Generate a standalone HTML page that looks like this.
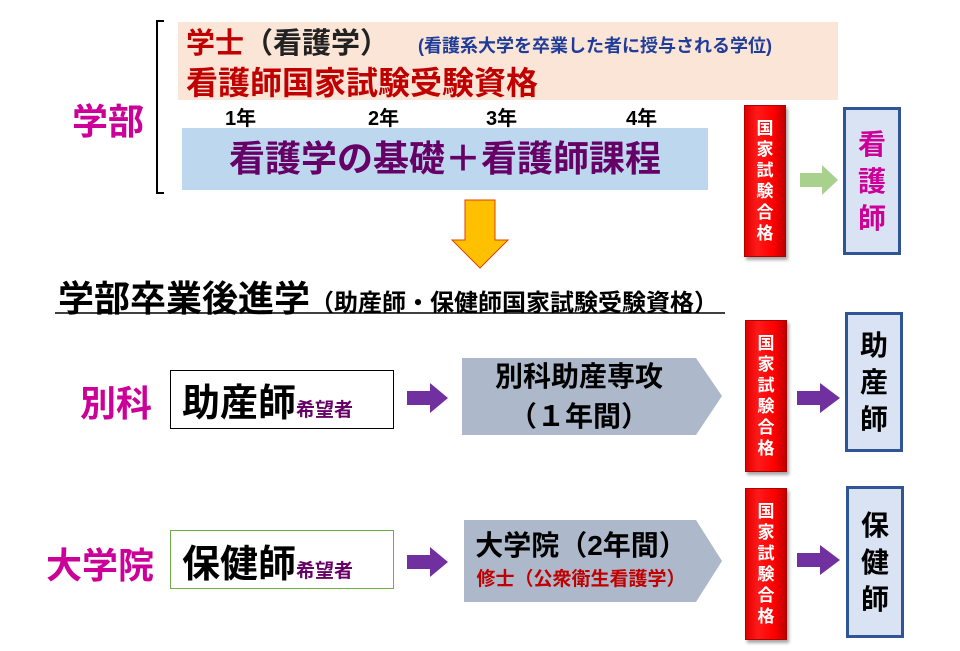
<!DOCTYPE html>
<html><head><meta charset="utf-8"><style>
body{margin:0;width:960px;height:651px;background:#fff;position:relative;overflow:hidden;font-family:"Liberation Sans","Noto Sans CJK JP",sans-serif;font-weight:bold}
.a{position:absolute;white-space:nowrap}
.red{position:absolute;width:40px;background:linear-gradient(90deg,#e00000,#ff1a1a 30%,#ff0000 70%,#c00000);border:1px solid #b00000;box-shadow:2px 3px 3px rgba(0,0,0,.35);color:#fff;font-size:17px;line-height:21px;text-align:center;display:flex;flex-direction:column;justify-content:center}
.res{position:absolute;width:52px;background:#dae3f3;border:3px solid #2f5597;font-size:28px;line-height:37px;text-align:center;display:flex;flex-direction:column;justify-content:center}
.box{position:absolute;left:170px;width:222px;height:57px;background:#fff}
</style></head><body>
<div class="a" style="left:156px;top:20px;width:6px;height:170px;border:2px solid #000;border-right:none"></div>
<div class="a" style="left:178px;top:22px;width:660px;height:78px;background:#fbe5d6"></div>
<div class="a" style="left:186px;top:20px;font-size:29px;color:#c00000">学士<span style="color:#222">（看護学）</span></div>
<div class="a" style="left:418px;top:32px;font-size:18px;color:#1f3c99">(看護系大学を卒業した者に授与される学位)</div>
<div class="a" style="left:186px;top:58px;font-size:32px;color:#c00000">看護師国家試験受験資格</div>
<div class="a" style="left:225px;top:102px;font-size:20px">1年</div>
<div class="a" style="left:368px;top:102px;font-size:20px">2年</div>
<div class="a" style="left:486px;top:102px;font-size:20px">3年</div>
<div class="a" style="left:626px;top:102px;font-size:20px">4年</div>
<div class="a" style="left:182px;top:128px;width:526px;height:62px;background:#bdd7ee;color:#660066;font-size:36px;line-height:62px;text-align:center">看護学の基礎＋看護師課程</div>
<div class="a" style="left:72px;top:93px;font-size:36px;color:#cc0099">学部</div>
<svg class="a" style="left:0;top:0" width="960" height="651">
<polygon points="465,200 495,200 495,240 508,240 480,268 452,240 465,240" fill="#ffc000" stroke="#e04000" stroke-width="1"/>
<polygon points="800,173 822,173 822,165 838,180 822,195 822,187 800,187" fill="#a9d18e"/>
<polygon points="407,391 430,391 430,383 448,398 430,413 430,405 407,405" fill="#7030a0"/>
<polygon points="797,391 820,391 820,383 840,398 820,413 820,405 797,405" fill="#7030a0"/>
<polygon points="407,555 430,555 430,547 448,562 430,577 430,569 407,569" fill="#7030a0"/>
<polygon points="797,553 820,553 820,545 840,560 820,575 820,567 797,567" fill="#7030a0"/>
<polygon points="462,358 696,358 722,396 696,435 462,435" fill="#adb9ca"/>
<polygon points="464,520 696,520 722,561 696,602 464,602" fill="#adb9ca"/>
<line x1="55" y1="313" x2="725" y2="313" stroke="#000" stroke-width="1.5"/>
</svg>
<div class="red" style="left:744px;top:105px;height:150px">国<br>家<br>試<br>験<br>合<br>格</div>
<div class="red" style="left:745px;top:320px;height:150px">国<br>家<br>試<br>験<br>合<br>格</div>
<div class="red" style="left:745px;top:488px;height:150px">国<br>家<br>試<br>験<br>合<br>格</div>
<div class="res" style="left:843px;top:107px;height:142px;color:#cc0099">看<br>護<br>師</div>
<div class="res" style="left:845px;top:312px;height:134px">助<br>産<br>師</div>
<div class="res" style="left:846px;top:486px;height:146px">保<br>健<br>師</div>
<div class="a" style="left:58px;top:277px;font-size:36px;line-height:44px">学部卒業後進学<span style="font-size:24px">（助産師・保健師国家試験受験資格）</span></div>
<div class="a" style="left:80px;top:375px;font-size:36px;color:#cc0099">別科</div>
<div class="box" style="top:370px;border:1px solid #000"></div>
<div class="a" style="left:182px;top:372px;font-size:38px">助産師<span style="font-size:19px;color:#660066">希望者</span></div>
<div class="a" style="left:462px;top:357px;width:234px;text-align:center;font-size:28px;line-height:40px">別科助産専攻<br>（１年間）</div>
<div class="a" style="left:46px;top:537px;font-size:36px;color:#cc0099">大学院</div>
<div class="box" style="top:530px;border:1px solid #70ad47"></div>
<div class="a" style="left:182px;top:533px;font-size:38px">保健師<span style="font-size:19px;color:#660066">希望者</span></div>
<div class="a" style="left:464px;top:524px;width:234px;text-align:center;font-size:28px">大学院（2年間）</div>
<div class="a" style="left:464px;top:564px;width:234px;text-align:center;font-size:19px;color:#c00000">修士（公衆衛生看護学）</div>
</body></html>
